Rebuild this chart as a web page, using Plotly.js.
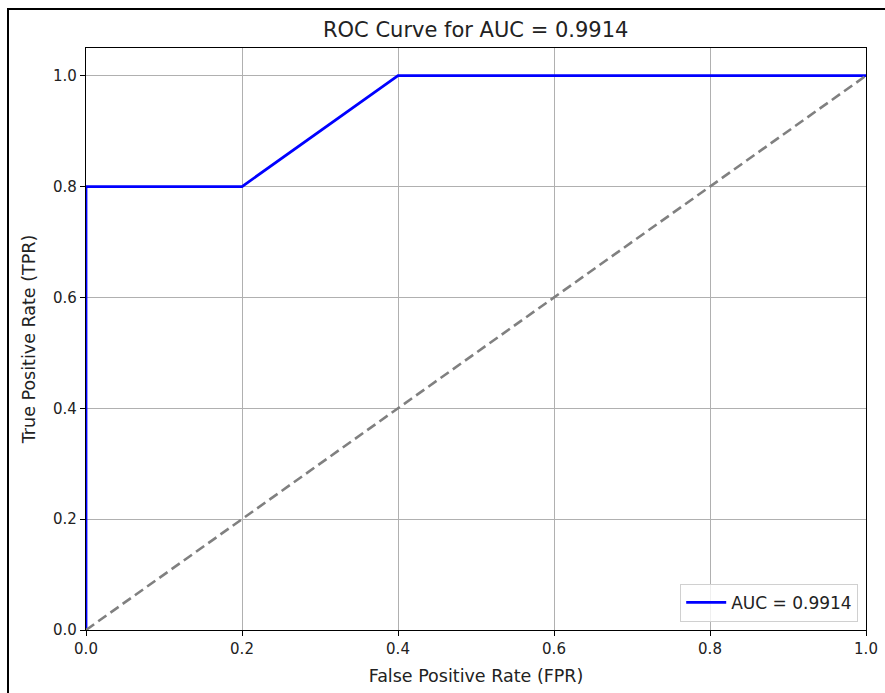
<!DOCTYPE html>
<html>
<head>
<meta charset="utf-8">
<script src="https://cdn.plot.ly/plotly-3.0.1.min.js"></script>
<style>html,body{margin:0;padding:0;background:#fff;}#chart{width:885px;height:693px;}</style>
</head>
<body>
<div id="chart"></div>
<script>
const fpr = [0.0, 0.0, 0.2, 0.4, 1.0];
const tpr = [0.0, 0.8, 0.8, 1.0, 1.0];
const diagX = [0, 1];
const diagY = [0, 1];
const aucLabel = "AUC = 0.9914";
const chartTitle = "ROC Curve for AUC = 0.9914";
const tickVals = [0, 0.2, 0.4, 0.6, 0.8, 1.0];

const font = "DejaVu Sans, sans-serif";
const traces = [
  {x: fpr, y: tpr, mode: "lines", name: aucLabel, line: {color: "#0000ff", width: 2.8}},
  {x: diagX, y: diagY, mode: "lines", showlegend: false, line: {color: "#808080", width: 2.6, dash: "10px,5px"}}
];
const axisCommon = {
  showgrid: true, gridcolor: "#b0b0b0", gridwidth: 1,
  showline: true, linecolor: "#000", linewidth: 1.2, mirror: true,
  ticks: "outside", ticklen: 5, tickwidth: 1.2, tickcolor: "#000",
  tickvals: tickVals, tickformat: ".1f", zeroline: false,
  tickfont: {family: font, size: 15, color: "#222"}
};
const layout = {
  width: 885, height: 693,
  margin: {l: 86, r: 19, t: 48, b: 63},
  paper_bgcolor: "#fff", plot_bgcolor: "#fff",
  title: {text: chartTitle, x: 0.5375, xanchor: "center", y: 0.957, yanchor: "middle", font: {family: font, size: 21, color: "#222"}},
  xaxis: Object.assign({}, axisCommon, {range: [0, 1], title: {text: "False Positive Rate (FPR)", standoff: 12, font: {family: font, size: 17.5, color: "#222"}}}),
  yaxis: Object.assign({}, axisCommon, {range: [0, 1.05], title: {text: "True Positive Rate (TPR)", standoff: 12, font: {family: font, size: 17.5, color: "#222"}}}),
  showlegend: true,
  legend: {x: 0.99, y: 0.014, xanchor: "right", yanchor: "bottom", bgcolor: "rgba(255,255,255,0.8)", bordercolor: "#d0d0d0", borderwidth: 1, itemwidth: 40, font: {family: font, size: 17, color: "#222"}},
  shapes: [
    {type: "rect", xref: "paper", yref: "paper", x0: -0.1, x1: 1.06, y0: -0.13, y1: 1.067, line: {color: "#000", width: 2}, fillcolor: "rgba(0,0,0,0)", layer: "above"}
  ]
};
Plotly.newPlot("chart", traces, layout, {displayModeBar: false, responsive: false});
</script>
</body>
</html>
